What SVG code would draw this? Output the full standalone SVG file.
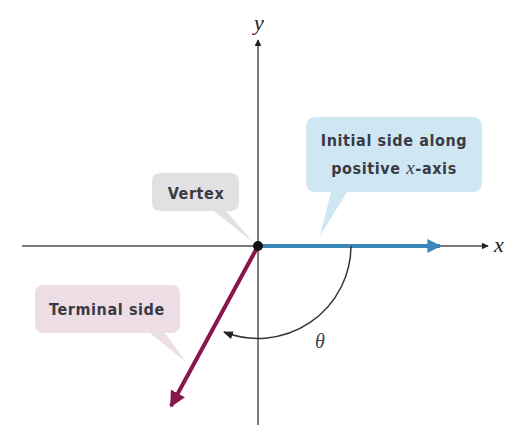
<svg xmlns="http://www.w3.org/2000/svg" width="507" height="425" viewBox="0 0 507 425">
<defs>
<style>
.lbl{font-family:"DejaVu Sans Condensed","DejaVu Sans",sans-serif;font-weight:bold;font-size:16px;letter-spacing:0.6px;fill:#3a3a44;}
.it{font-family:"Liberation Serif",serif;font-style:italic;}
.axis{stroke:#7a7a7a;stroke-width:2;fill:none;}
</style>
<marker id="ah" viewBox="0 0 10 10" refX="9" refY="5" markerWidth="7" markerHeight="7" orient="auto" markerUnits="userSpaceOnUse">
<path d="M0,0 L10,5 L0,10 z" fill="#222"/>
</marker>
<marker id="ahBlue" viewBox="0 0 10 10" refX="9" refY="5" markerWidth="4.5" markerHeight="3.5" orient="auto">
<path d="M0,0 L10,5 L0,10 z" fill="#3a87b8"/>
</marker>
<marker id="ahRed" viewBox="0 0 10 10" refX="9" refY="5" markerWidth="4" markerHeight="4" orient="auto">
<path d="M0,0 L10,5 L0,10 z" fill="#85174a"/>
</marker>
<marker id="ahArc" viewBox="0 0 10 10" refX="9" refY="5" markerWidth="10" markerHeight="10" orient="auto" markerUnits="userSpaceOnUse">
<path d="M0,1 L10,5 L0,9 z" fill="#222"/>
</marker>
</defs>
<rect width="507" height="425" fill="#ffffff"/>
<g id="connectors">
<line class="axis" x1="22" y1="246" x2="488" y2="246" marker-end="url(#ah)"/>
<line class="axis" x1="258" y1="425" x2="258" y2="40" marker-end="url(#ah)"/>
<line x1="258" y1="246" x2="440" y2="246" stroke="#3a87b8" stroke-width="4" marker-end="url(#ahBlue)"/>
<line x1="258" y1="246" x2="171" y2="406" stroke="#85174a" stroke-width="4" marker-end="url(#ahRed)"/>
<path d="M351,246 A93,93 0 0 1 224,332" fill="none" stroke="#333" stroke-width="1.5" marker-end="url(#ahArc)"/>
<circle cx="258" cy="246" r="5" fill="#111"/>
</g>
<g id="axis-labels">
<text class="it" x="259" y="30" font-size="22" fill="#222" text-anchor="middle">y</text>
<text class="it" x="494" y="252" font-size="22" fill="#222">x</text>
<text class="it" x="320" y="348" font-size="20" fill="#444" text-anchor="middle">θ</text>
</g>
<g id="initial-side">
<path d="M316,117 H472 Q482,117 482,127 V182 Q482,192 472,192 H347 L320,236 L331,192 H316 Q306,192 306,182 V127 Q306,117 316,117 Z" fill="#cfe7f3"/>
<text class="lbl" x="394" y="146" text-anchor="middle">Initial side along</text>
<text class="lbl" x="394" y="174" text-anchor="middle">positive <tspan class="it" font-weight="normal" font-size="19">x</tspan>-axis</text>
</g>
<g id="vertex">
<path d="M161,173 H230 Q239,173 239,182 V202 Q239,211 230,211 H226 L254,243 L214,211 H161 Q152,211 152,202 V182 Q152,173 161,173 Z" fill="#e1e1e1"/>
<text class="lbl" x="196" y="199" text-anchor="middle">Vertex</text>
</g>
<g id="terminal-side">
<path d="M44,285 H171 Q180,285 180,294 V324 Q180,333 171,333 H165 L186,362 L150,333 H44 Q35,333 35,324 V294 Q35,285 44,285 Z" fill="#eddde4"/>
<text class="lbl" x="107" y="315" text-anchor="middle">Terminal side</text>
</g>
</svg>
